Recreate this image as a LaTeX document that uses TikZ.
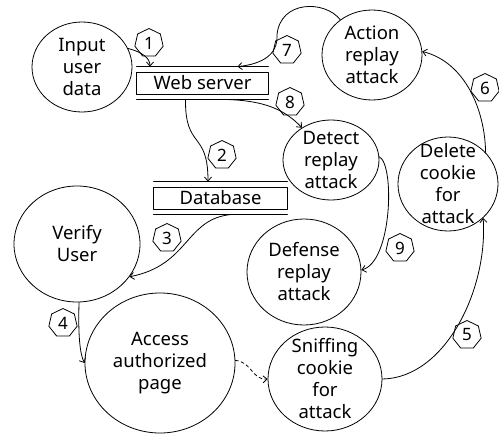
\documentclass[tikz,border=0pt]{standalone}
\usepackage{fontspec}
\setmainfont{Noto Sans}
\usetikzlibrary{shapes.geometric,arrows.meta}

\begin{document}
\begin{tikzpicture}[x=1pt,y=-1pt,>={Straight Barb[length=4pt,width=7pt]}, thick,
	font=\fontsize{18.5}{22}\selectfont, line join=round, line cap=round,
	proc/.style={draw,ellipse,inner sep=-14pt,align=center},
	store/.style={minimum height=32pt,inner sep=0pt},
	num/.style={draw,regular polygon,regular polygon sides=7,minimum size=29pt,inner sep=0pt,font=\fontsize{17}{18}\selectfont}]
	\useasboundingbox (0,0) rectangle (499,434);
	% processes
	\node[proc,minimum width=100pt,minimum height=90pt] (in) at (82,67) {Input\\user\\data};
	\node[proc,minimum width=100pt,minimum height=90pt] (act) at (372,55) {Action\\replay\\attack};
	\node[proc,minimum width=96pt,minimum height=80pt] (det) at (331,160) {Detect\\replay\\attack};
	\node[proc,minimum width=100pt,minimum height=94pt] (del) at (448,184) {Delete\\cookie\\for\\attack};
	\node[proc,minimum width=114pt,minimum height=106pt] (def) at (304,272) {Defense\\replay\\attack};
	\node[proc,minimum width=114pt,minimum height=104pt] (snf) at (325,379) {Sniffing\\cookie\\for\\attack};
	\node[proc,minimum width=126pt,minimum height=116pt] (ver) at (77,244) {Verify\\User};
	\node[proc,minimum width=150pt,minimum height=140pt] (acc) at (160,363) {Access\\authorized\\page};
	% data stores
	\node[store,minimum width=131pt] (ws) at (202.5,83) {Web server};
	\node[store,minimum width=133pt] (db) at (220.5,198) {Database};
	\foreach \s in {ws,db}
	{\draw[line width=1.3pt] (\s.north west)--(\s.north east) (\s.south west)--(\s.south east);
	 \draw ([yshift=-6pt]\s.north west) rectangle ([yshift=5pt]\s.south east);}
	% step numbers
	\foreach \n/\x/\y in {1/149/43, 2/222/155, 3/167/238, 4/63/323, 5/467/335, 6/485/88, 7/287/50, 8/290/102, 9/400/248}
	{\node[num] (n\n) at (\x,\y) {\n};}
	% flows
	\draw[->] (in.22) .. controls (142,52) and (150,58) .. ([xshift=-52.5pt]ws.north);
	\draw[->] ([xshift=-17pt]ws.south) .. controls (185,150) and (208,130) .. ([xshift=-12.5pt]db.north);
	\draw[->] ([xshift=12pt]db.south) .. controls (185,218) and (190,265) .. (ver.-32);
	\draw[->] (ver.-88) .. controls (78,335) and (80,355) .. (acc.180);
	\draw[->,dashed] (acc.2) .. controls (252,362) and (252,380) .. (snf.180);
	\draw[->] (snf.0) .. controls (445,378) and (488,290) .. (del.-44);
	\draw[->] (del.40) .. controls (485,110) and (465,62) .. (act.4);
	\draw[->] (act.132) .. controls (325,0) and (280,0) .. (277,35) .. controls (278,55) and (262,64) .. ([xshift=35pt]ws.north);
	\draw[->] ([xshift=19.5pt]ws.south) .. controls (265,100) and (285,110) .. (det.132);
	\draw[->] (det.4) .. controls (395,165) and (392,262) .. (def.2);
\end{tikzpicture}
\end{document}
